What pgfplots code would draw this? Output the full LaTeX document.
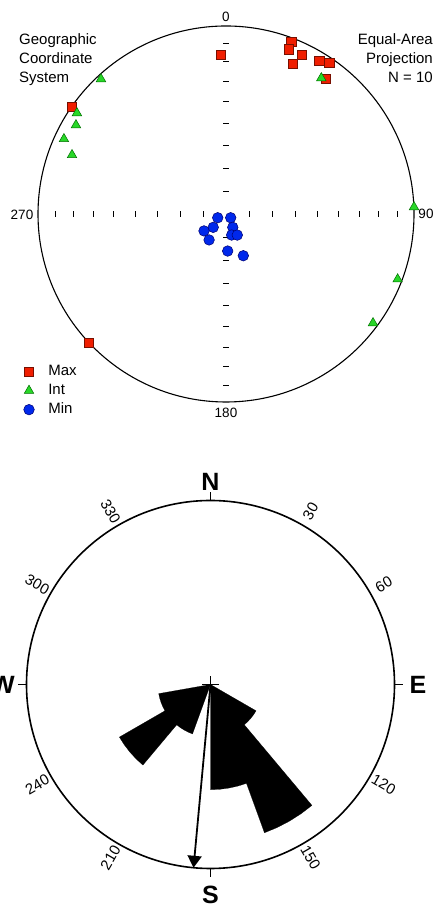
\documentclass[border=0pt]{standalone}
\usepackage{fontspec}
\setmainfont{Liberation Sans}
\usepackage{pgfplots}
\pgfplotsset{compat=1.18}
\usepgfplotslibrary{polar}
\usetikzlibrary{arrows.meta}
\definecolor{maxfill}{RGB}{240,30,0}
\definecolor{maxdraw}{RGB}{120,15,0}
\definecolor{intfill}{RGB}{40,215,40}
\definecolor{intdraw}{RGB}{0,110,0}
\definecolor{minfill}{RGB}{0,40,235}
\definecolor{mindraw}{RGB}{0,0,110}
\begin{document}
\begin{tikzpicture}[x=1pt,y=1pt]
\useasboundingbox (0,0) rectangle (436,905);
% ---------- stereonet frame ----------
\draw[line width=1.1pt] (226,691) circle[radius=188];
\foreach \d in {23.18,46.17,68.81,90.94,112.37,132.93,152.51,171.0}{
  \draw[line width=0.6pt] (226+\d,688) -- (226+\d,694);
  \draw[line width=0.6pt] (226-\d,688) -- (226-\d,694);
  \draw[line width=0.6pt] (223,691+\d) -- (229,691+\d);
  \draw[line width=0.6pt] (223,691-\d) -- (229,691-\d);
}
\begin{axis}[at={(226pt,691pt)}, anchor=center, x=188pt, y=188pt,
  xmin=-1.25, xmax=1.25, ymin=-1.25, ymax=1.25, hide axis, clip=false,
  legend style={at={(axis cs:-1.077,-0.787)}, anchor=north west, draw=none, fill=none,
    inner sep=0pt, font=\fontsize{15}{18}\selectfont, row sep=0pt, column sep=12pt,
    nodes={inner sep=2pt, text height=11pt, text depth=4pt}, cells={anchor=west}},
  legend image code/.code={\draw[#1] plot coordinates {(0.3cm,0cm)};}]
\addplot[only marks, mark=square*, mark size=4.6pt,
  mark options={fill=maxfill, draw=maxdraw, line width=0.5pt}] coordinates {
  (-0.030,0.849) (0.347,0.917) (0.334,0.876) (0.401,0.846) (0.355,0.798)
  (0.496,0.814) (0.549,0.805) (0.532,0.720) (-0.819,0.569) (-0.729,-0.686)};
\addlegendentry{Max}
\addplot[only marks, mark=triangle*, mark size=5.5pt,
  mark options={fill=intfill, draw=intdraw, line width=0.5pt}] coordinates {
  (0.507,0.723) (-0.665,0.718) (-0.793,0.537) (-0.798,0.473) (-0.862,0.399)
  (-0.819,0.314) (1.000,0.037) (0.913,-0.347) (0.782,-0.580)};
\addlegendentry{Int}
\addplot[only marks, mark=*, mark size=5.3pt,
  mark options={fill=minfill, draw=mindraw, line width=0.5pt}] coordinates {
  (-0.044,-0.020) (0.025,-0.020) (-0.068,-0.071) (0.036,-0.071) (-0.117,-0.090)
  (0.030,-0.112) (0.060,-0.112) (-0.090,-0.138) (0.009,-0.197) (0.092,-0.222)};
\addlegendentry{Min}
\end{axis}
\begin{scope}[font=\fontsize{13.5}{16}\selectfont]
\node at (226,888) {0};
\node at (226,492) {180};
\node at (22,690) {270};
\node at (426,691) {90};
\end{scope}
\begin{scope}[font=\fontsize{15}{18}\selectfont, inner sep=0pt]
\node[anchor=base west] at (19,860) {Geographic};
\node[anchor=base west] at (19,841) {Coordinate};
\node[anchor=base west] at (19,822) {System};
\node[anchor=base east] at (433,860) {Equal-Area};
\node[anchor=base east] at (433,841) {Projection};
\node[anchor=base east] at (433,822) {N = 10};
\end{scope}
% ---------- rose diagram ----------
\begin{axis}[at={(210.5pt,220.5pt)}, anchor=center, x=52.6pt, y=52.6pt,
  xmin=-4, xmax=4, ymin=-4, ymax=4, hide axis, clip=false]
\addplot[fill=black, draw=black, line width=0.2pt, data cs=polar] coordinates {
  (-30,0) (-30,1) (-35,1) (-40,1) (-45,1) (-50,1)
  (-50,3) (-55,3) (-60,3) (-65,3) (-70,3)
  (-70,2) (-75,2) (-80,2) (-85,2) (-90,2) (-90,0)};
\addplot[fill=black, draw=black, line width=0.2pt, data cs=polar] coordinates {
  (-110,0) (-110,1) (-115,1) (-120,1) (-125,1) (-130,1)
  (-130,2) (-135,2) (-140,2) (-145,2) (-150,2)
  (-150,1) (-155,1) (-160,1) (-165,1) (-170,1) (-170,0)};
\addplot[line width=1.8pt, -{Triangle[width=14pt,length=12pt]}, data cs=polar]
  coordinates {(-95.3,0) (-95.3,3.5)};
\end{axis}
\draw[line width=1.6pt] (210.5,220.5) circle[radius=184];
\draw[line width=0.9pt] (202,220.5) -- (219,220.5) (210.5,212) -- (210.5,229);
\draw[line width=1pt] (210.5,404.5) -- (210.5,413) (210.5,36.5) -- (210.5,28)
  (394.5,220.5) -- (403,220.5) (26.5,220.5) -- (18,220.5);
\begin{scope}[font=\fontsize{25}{30}\selectfont\bfseries]
\node at (210.5,423.3) {N};
\node at (210.5,10) {S};
\node at (418,220.5) {E};
\node at (3,220.5) {W};
\end{scope}
\begin{scope}[font=\fontsize{15}{18}\selectfont]
\node[rotate=60] at ([shift={(60:200pt)}]210.5,220.5) {30};
\node[rotate=30] at ([shift={(30:200pt)}]210.5,220.5) {60};
\node[rotate=-30] at ([shift={(-30:200pt)}]210.5,220.5) {120};
\node[rotate=-60] at ([shift={(-60:200pt)}]210.5,220.5) {150};
\node[rotate=60] at ([shift={(-120:200pt)}]210.5,220.5) {210};
\node[rotate=30] at ([shift={(-150:200pt)}]210.5,220.5) {240};
\node[rotate=-30] at ([shift={(150:200pt)}]210.5,220.5) {300};
\node[rotate=-60] at ([shift={(120:200pt)}]210.5,220.5) {330};
\end{scope}
\end{tikzpicture}
\end{document}
